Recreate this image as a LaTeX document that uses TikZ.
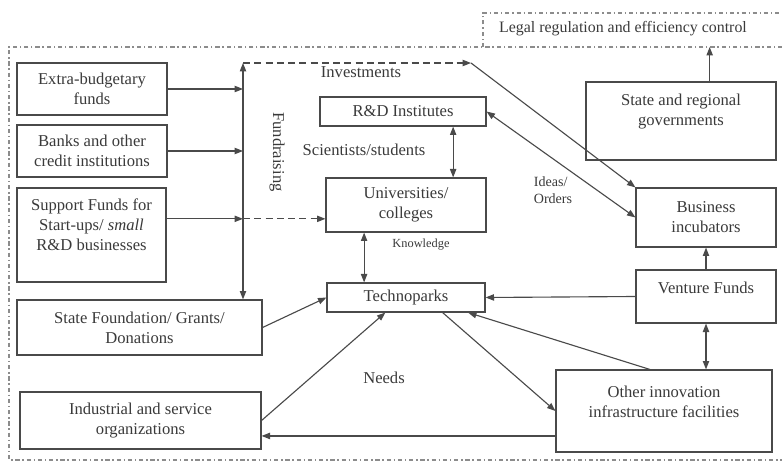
\documentclass[tikz,border=0pt]{standalone}
\usepackage{fontspec}
\setmainfont{Liberation Serif}
\usetikzlibrary{calc,arrows.meta}
\definecolor{ink}{HTML}{3A3A3A}
\definecolor{edge}{HTML}{4A4A4A}
\definecolor{frame}{HTML}{8C8C8C}
\def\pxl{0.025cm}
\tikzset{
  box/.style={draw=edge, line width=0.8pt, fill=white, text=ink, align=center, inner sep=1pt, font=\fontsize{11.8}{14.2}\selectfont},
  sz/.style 2 args={minimum width=#1*\pxl, minimum height=#2*\pxl},
  boxtxt/.style={text=ink, align=center, font=\fontsize{11.8}{14.2}\selectfont},
  conn/.style={draw=edge, line width=0.8pt, >={Triangle[length=6pt,width=4.5pt]}},
  dsh/.style={dash pattern=on 5pt off 3pt},
  frm/.style={draw=frame, line width=0.8pt, dash pattern=on 3pt off 2pt on 1pt off 2pt},
  lab/.style={text=ink, font=\fontsize{11.8}{14.2}\selectfont},
  labs/.style={text=ink, align=left, font=\fontsize{10}{12}\selectfont},
}
\begin{document}
\begin{tikzpicture}[x=\pxl, y=-\pxl]
  \useasboundingbox (0,0) rectangle (782,465);
  \coordinate (fnw) at (9,47);
  \coordinate (fse) at (782,460);
  \draw[frm] (782,47) -- (fnw) -- (fnw |- fse) -- (fse);
  \draw[frm] (483,47) -- (483,13) -- (782,13);
  \node[lab, font=\fontsize{11.3}{13}\selectfont] (legal) at (623,29) {Legal regulation and efficiency control};

  \node[box, sz={150}{52}] (extra) at (92,89) {Extra-budgetary\\funds};
  \node[box, sz={150}{52}] (banks) at (92,151) {Banks and other\\credit institutions};
  \node[box, sz={149}{94}, label={[boxtxt, yshift=7pt]center:{Support Funds for\\Start-ups/ \textit{small}\\R\&D businesses}}] (support) at (91.5,235) {};
  \node[box, sz={245}{55}] (found) at (139.5,327.5) {State Foundation/ Grants/\\Donations};
  \node[box, sz={241}{57}] (indus) at (140.5,420.5) {Industrial and service\\organizations};
  \node[box, sz={166}{29}] (rnd) at (403,111.5) {R\&D Institutes};
  \node[box, sz={160}{54}] (univ) at (406,205) {Universities/\\colleges};
  \node[box, sz={158}{29}] (techno) at (406,297.5) {Technoparks};
  \node[box, sz={190}{78}, label={[boxtxt, yshift=7pt]center:{State and regional\\governments}}] (govs) at (681,121) {};
  \node[box, sz={140}{59}] (incub) at (706,217.5) {Business\\incubators};
  \node[box, sz={140}{53}, label={[boxtxt, yshift=6pt]center:{Venture Funds}}] (venture) at (706,296.5) {};
  \node[box, sz={216}{82}, label={[boxtxt, yshift=6.4pt]center:{Other innovation\\infrastructure facilities}}] (other) at (664,411) {};

  \node[lab, rotate=-90] (fundr) at (277,152) {Fundraising};
  \node[lab] (invest-l) at (361,72) {Investments};
  \node[lab] (sci) at (364,150) {Scientists/students};
  \node[labs, font=\fontsize{8.8}{10}\selectfont] (know) at (421,245) {Knowledge};
  \node[labs] (ideas) at (553,190) {Ideas/\\Orders};
  \node[lab] (needs) at (384,378) {Needs};

  \coordinate (fundtop) at (243,63);
  \coordinate (invest) at (471,63);
  \coordinate (supp-out) at ($(support.north east)!0.33!(support.south east)$);
  \coordinate (rs) at ($(rnd.south west)!0.8!(rnd.south east)$);
  \coordinate (us) at ($(univ.south west)!0.24!(univ.south east)$);
  \coordinate (oin) at ($(other.north west)!0.8!(other.south west)$);
  \coordinate (gt) at ($(govs.north west)!0.65!(govs.north east)$);

  \draw[conn,<->] (fundtop) -- (fundtop |- found.north);
  \draw[conn,->] (extra.east) -- (extra.east -| fundtop);
  \draw[conn,->] (banks.east) -- (banks.east -| fundtop);
  \draw[conn,->] (supp-out) -- (supp-out -| fundtop);
  \draw[conn,->,dsh] (supp-out -| fundtop) -- (supp-out -| univ.west);
  \draw[conn,->,dsh] (fundtop) -- (invest);
  \draw[conn,->] (invest) -- (incub.north west);
  \draw[conn,<->] (rnd.east) -- (incub.west);
  \draw[conn,<->] (rs) -- (rs |- univ.north);
  \draw[conn,<->] (us) -- (us |- techno.north);
  \draw[conn,->] (found.east) -- (techno.west);
  \draw[conn,->] (indus.east) -- ($(techno.south west)!0.37!(techno.south east)$);
  \draw[conn,->] (oin) -- (oin -| indus.east);
  \draw[conn,->] ($(techno.south west)!0.73!(techno.south east)$) -- (other.west);
  \draw[conn,->] ($(other.north west)!0.435!(other.north east)$) -- ($(techno.south west)!0.89!(techno.south east)$);
  \draw[conn,->] (venture.west) -- (techno.east);
  \draw[conn,->] (venture.north) -- (incub.south);
  \draw[conn,<->] (venture.south) -- (venture.south |- other.north);
  \draw[conn,->] (gt) -- (gt |- fnw);
\end{tikzpicture}
\end{document}
